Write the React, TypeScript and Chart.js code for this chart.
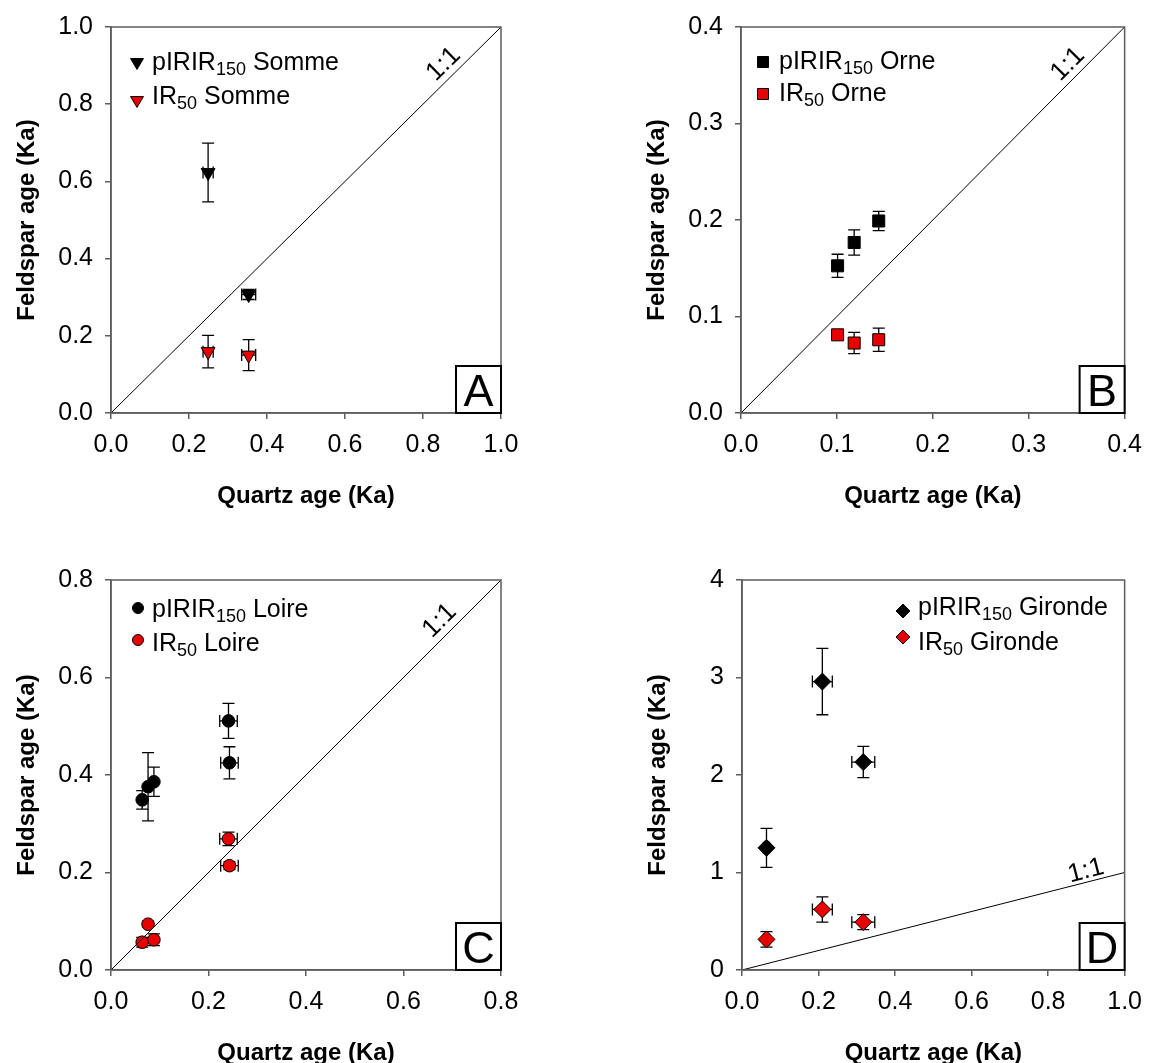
import React, { useEffect, useRef } from 'react';
import { Chart, registerables } from 'chart.js';

Chart.register(...registerables);

const FONT = "'Liberation Sans', Arial, Helvetica, sans-serif";
const AXIS = '#5c5c5c';
const RED = '#e80000';

// ---------- Panel A : Somme ----------
const sommeQuartz = [0.249, 0.353];
const sommeQuartzErr = [0.013, 0.018];
const sommePIRIR = [0.623, 0.307];
const sommePIRIRErr = [0.076, 0.013];
const sommeIR50 = [0.159, 0.15];
const sommeIR50Err = [0.042, 0.04];
const ticksA = [0, 0.2, 0.4, 0.6, 0.8, 1.0];

// ---------- Panel B : Orne ----------
const orneQuartz = [0.1007, 0.118, 0.1436];
const orneQuartzErr = [0.002, 0.004, 0.004];
const ornePIRIR = [0.1525, 0.1767, 0.199];
const ornePIRIRErr = [0.012, 0.013, 0.01];
const orneIR50 = [0.081, 0.0725, 0.0759];
const orneIR50Err = [0.003, 0.011, 0.012];
const ticksB = [0, 0.1, 0.2, 0.3, 0.4];

// ---------- Panel C : Loire ----------
const loireQuartz = [0.064, 0.076, 0.088, 0.241, 0.243];
const loireQuartzErr = [0.005, 0.005, 0.005, 0.018, 0.018];
const loirePIRIR = [0.349, 0.376, 0.386, 0.511, 0.425];
const loirePIRIRErr = [0.019, 0.07, 0.03, 0.036, 0.033];
const loireIR50 = [0.057, 0.094, 0.062, 0.269, 0.214];
const loireIR50Err = [0.01, 0.006, 0.012, 0.014, 0.008];
const ticksC = [0, 0.2, 0.4, 0.6, 0.8];

// ---------- Panel D : Gironde ----------
const girondeQuartz = [0.064, 0.21, 0.317];
const girondeQuartzErr = [0.008, 0.026, 0.03];
const girondePIRIR = [1.253, 2.958, 2.133];
const girondePIRIRErr = [0.2, 0.34, 0.16];
const girondeIR50 = [0.314, 0.621, 0.491];
const girondeIR50Err = [0.08, 0.13, 0.077];
const ticksDx = [0, 0.2, 0.4, 0.6, 0.8, 1.0];
const ticksDy = [0, 1, 2, 3, 4];

type Marker = 'triDown' | 'square' | 'circle' | 'diamond';

type LegendLine = { sub: string; site: string; color: string; baseDy: number; markDy: number };

type Spec = {
  left: number; top: number; w: number; h: number;
  pad: { left: number; top: number; right: number; bottom: number };
  xTicks: number[]; yTicks: number[]; xDec: number; yDec: number;
  lineMax: number;
  quartz: number[]; quartzErr: number[];
  black: number[]; blackErr: number[];
  red: number[]; redErr: number[];
  marker: Marker; pointStyle: string; pointRadius: number; rotation: number;
  legendMarkerSize: number;
  letter: string;
  lineT: number; lineOff: number;
  legend: { markDx: number; textDx: number; lines: LegendLine[] };
};

const specs: Spec[] = [
  {
    left: 0, top: 0, w: 576, h: 531,
    pad: { left: 0, top: 23, right: 75, bottom: 18 },
    xTicks: ticksA, yTicks: ticksA, xDec: 1, yDec: 1, lineMax: 1,
    quartz: sommeQuartz, quartzErr: sommeQuartzErr,
    black: sommePIRIR, blackErr: sommePIRIRErr, red: sommeIR50, redErr: sommeIR50Err,
    marker: 'triDown', pointStyle: 'triangle', pointRadius: 8, rotation: 180, legendMarkerSize: 6.8,
    letter: 'A', lineT: 0.878, lineOff: 14,
    legend: {
      markDx: 26, textDx: 41,
      lines: [
        { sub: '150', site: 'pIRIR', color: '#000', baseDy: 43, markDy: 37 },
        { sub: '50', site: 'IR', color: RED, baseDy: 77, markDy: 75 },
      ],
    },
  },
  {
    left: 576, top: 0, w: 577, h: 531,
    pad: { left: 54, top: 23, right: 22, bottom: 18 },
    xTicks: ticksB, yTicks: ticksB, xDec: 1, yDec: 1, lineMax: 0.4,
    quartz: orneQuartz, quartzErr: orneQuartzErr,
    black: ornePIRIR, blackErr: ornePIRIRErr, red: orneIR50, redErr: orneIR50Err,
    marker: 'square', pointStyle: 'rect', pointRadius: 8.5, rotation: 0, legendMarkerSize: 5.5,
    letter: 'B', lineT: 0.878, lineOff: 14,
    legend: {
      markDx: 22, textDx: 38,
      lines: [
        { sub: '150', site: 'pIRIR', color: '#000', baseDy: 42, markDy: 35 },
        { sub: '50', site: 'IR', color: RED, baseDy: 74, markDy: 67 },
      ],
    },
  },
  {
    left: 0, top: 531, w: 576, h: 560,
    pad: { left: 0, top: 49, right: 75, bottom: 21 },
    xTicks: ticksC, yTicks: ticksC, xDec: 1, yDec: 1, lineMax: 0.8,
    quartz: loireQuartz, quartzErr: loireQuartzErr,
    black: loirePIRIR, blackErr: loirePIRIRErr, red: loireIR50, redErr: loireIR50Err,
    marker: 'circle', pointStyle: 'circle', pointRadius: 6.3, rotation: 0, legendMarkerSize: 5.5,
    letter: 'C', lineT: 0.869, lineOff: 14.5,
    legend: {
      markDx: 27, textDx: 41,
      lines: [
        { sub: '150', site: 'pIRIR', color: '#000', baseDy: 37, markDy: 28 },
        { sub: '50', site: 'IR', color: RED, baseDy: 71, markDy: 60 },
      ],
    },
  },
  {
    left: 576, top: 531, w: 577, h: 560,
    pad: { left: 55, top: 49, right: 22, bottom: 21 },
    xTicks: ticksDx, yTicks: ticksDy, xDec: 1, yDec: 0, lineMax: 1,
    quartz: girondeQuartz, quartzErr: girondeQuartzErr,
    black: girondePIRIR, blackErr: girondePIRIRErr, red: girondeIR50, redErr: girondeIR50Err,
    marker: 'diamond', pointStyle: 'rectRot', pointRadius: 8.5, rotation: 0, legendMarkerSize: 7,
    letter: 'D', lineT: 0.906, lineOff: 11,
    legend: {
      markDx: 161, textDx: 176,
      lines: [
        { sub: '150', site: 'pIRIR', color: '#000', baseDy: 35, markDy: 31 },
        { sub: '50', site: 'IR', color: RED, baseDy: 70, markDy: 57 },
      ],
    },
  },
];

const siteNames = ['Somme', 'Orne', 'Loire', 'Gironde'];

function drawMarker(ctx: CanvasRenderingContext2D, m: Marker, x: number, y: number, r: number, fill: string) {
  ctx.save();
  ctx.beginPath();
  if (m === 'triDown') {
    const hw = r * 0.95;
    const hh = r * 0.8;
    ctx.moveTo(x - hw, y - hh);
    ctx.lineTo(x + hw, y - hh);
    ctx.lineTo(x, y + hh);
    ctx.closePath();
  } else if (m === 'square') {
    ctx.rect(x - r, y - r, 2 * r, 2 * r);
  } else if (m === 'circle') {
    ctx.arc(x, y, r, 0, Math.PI * 2);
  } else {
    ctx.moveTo(x, y - r);
    ctx.lineTo(x + r, y);
    ctx.lineTo(x, y + r);
    ctx.lineTo(x - r, y);
    ctx.closePath();
  }
  ctx.fillStyle = fill;
  ctx.fill();
  ctx.lineWidth = 1;
  ctx.strokeStyle = '#000';
  ctx.stroke();
  ctx.restore();
}

const errorBarPlugin = {
  id: 'errorBars',
  beforeDatasetsDraw(chart: any) {
    const ctx: CanvasRenderingContext2D = chart.ctx;
    const xs = chart.scales.x;
    const ys = chart.scales.y;
    const cap = 6;
    ctx.save();
    ctx.strokeStyle = '#000';
    ctx.lineWidth = 1.3;
    chart.data.datasets.forEach((ds: any) => {
      if (!ds.xErr) return;
      ds.data.forEach((pt: any, i: number) => {
        const px = xs.getPixelForValue(pt.x);
        const py = ys.getPixelForValue(pt.y);
        const yTop = ys.getPixelForValue(pt.y + ds.yErr[i]);
        const yBot = ys.getPixelForValue(pt.y - ds.yErr[i]);
        const xL = xs.getPixelForValue(pt.x - ds.xErr[i]);
        const xR = xs.getPixelForValue(pt.x + ds.xErr[i]);
        ctx.beginPath();
        ctx.moveTo(px, yTop); ctx.lineTo(px, yBot);
        ctx.moveTo(px - cap, yTop); ctx.lineTo(px + cap, yTop);
        ctx.moveTo(px - cap, yBot); ctx.lineTo(px + cap, yBot);
        ctx.moveTo(xL, py); ctx.lineTo(xR, py);
        ctx.moveTo(xL, py - cap); ctx.lineTo(xL, py + cap);
        ctx.moveTo(xR, py - cap); ctx.lineTo(xR, py + cap);
        ctx.stroke();
      });
    });
    ctx.restore();
  },
};

function makeDecorPlugin(spec: Spec, site: string) {
  return {
    id: 'decor',
    afterDraw(chart: any) {
      const ctx: CanvasRenderingContext2D = chart.ctx;
      const a = chart.chartArea;
      const xs = chart.scales.x;
      const ys = chart.scales.y;
      ctx.save();
      // frame
      ctx.strokeStyle = AXIS;
      ctx.lineWidth = 1.5;
      ctx.strokeRect(a.left, a.top, a.right - a.left, a.bottom - a.top);

      // letter box
      const bw = 45, bh = 47;
      ctx.fillStyle = '#fff';
      ctx.fillRect(a.right - bw, a.bottom - bh, bw, bh);
      ctx.strokeStyle = '#000';
      ctx.lineWidth = 2;
      ctx.strokeRect(a.right - bw, a.bottom - bh, bw, bh);
      ctx.fillStyle = '#000';
      ctx.font = `45px ${FONT}`;
      ctx.textAlign = 'center';
      ctx.textBaseline = 'alphabetic';
      ctx.fillText(spec.letter, a.right - bw / 2, a.bottom - 7);

      // 1:1 label
      const x0 = xs.getPixelForValue(0), y0 = ys.getPixelForValue(0);
      const x1 = xs.getPixelForValue(spec.lineMax), y1 = ys.getPixelForValue(spec.lineMax);
      const ang = Math.atan2(y1 - y0, x1 - x0);
      const v = spec.lineT * spec.lineMax;
      const lx = xs.getPixelForValue(v) + Math.sin(ang) * spec.lineOff;
      const ly = ys.getPixelForValue(v) - Math.cos(ang) * spec.lineOff;
      ctx.save();
      ctx.translate(lx, ly);
      ctx.rotate(ang);
      ctx.font = `26px ${FONT}`;
      ctx.textAlign = 'center';
      ctx.textBaseline = 'middle';
      ctx.fillText('1:1', 0, 0);
      ctx.restore();

      // legend
      ctx.textAlign = 'left';
      ctx.textBaseline = 'alphabetic';
      spec.legend.lines.forEach((ln) => {
        drawMarker(ctx, spec.marker, a.left + spec.legend.markDx, a.top + ln.markDy, spec.legendMarkerSize, ln.color);
        let tx = a.left + spec.legend.textDx;
        const by = a.top + ln.baseDy;
        ctx.fillStyle = '#000';
        ctx.font = `25px ${FONT}`;
        ctx.fillText(ln.site, tx, by);
        tx += ctx.measureText(ln.site).width;
        ctx.font = `18px ${FONT}`;
        ctx.fillText(ln.sub, tx, by + 5);
        tx += ctx.measureText(ln.sub).width;
        ctx.font = `25px ${FONT}`;
        ctx.fillText(' ' + site, tx, by);
      });
      ctx.restore();
    },
  };
}

function makeConfig(spec: Spec, site: string): any {
  const pts = (ys: number[]) => spec.quartz.map((x, i) => ({ x, y: ys[i] }));
  const axisCommon = (ticks: number[], dec: number, isX: boolean, title: string) => ({
    type: 'linear',
    min: ticks[0],
    max: ticks[ticks.length - 1],
    afterBuildTicks: (s: any) => { s.ticks = ticks.map((value) => ({ value })); },
    afterFit: (s: any) => { if (isX) s.height = 100; else s.width = 111; },
    grid: { display: true, drawOnChartArea: false, drawTicks: true, tickLength: 6, color: AXIS, lineWidth: 1.5 },
    border: { display: true, color: AXIS, width: 1.5 },
    ticks: {
      padding: isX ? 11 : 12,
      color: '#000',
      font: { family: FONT, size: 25 },
      maxRotation: 0,
      autoSkip: false,
      callback: (v: any) => Number(v).toFixed(dec),
    },
    title: {
      display: true,
      text: title,
      color: '#000',
      font: { family: FONT, size: 24, weight: 'bold' },
      padding: isX ? { top: 0, bottom: 2 } : { top: 12.6, bottom: 0 },
    },
  });
  return {
    type: 'scatter',
    data: {
      datasets: [
        {
          label: '1:1',
          data: [{ x: 0, y: 0 }, { x: spec.lineMax, y: spec.lineMax }],
          showLine: true,
          borderColor: '#000',
          borderWidth: 1,
          pointRadius: 0,
        },
        {
          label: `pIRIR150 ${site}`,
          data: pts(spec.black),
          xErr: spec.quartzErr,
          yErr: spec.blackErr,
          pointStyle: spec.pointStyle,
          pointRadius: spec.pointRadius,
          rotation: spec.rotation,
          backgroundColor: '#000',
          borderColor: '#000',
          borderWidth: 1,
        },
        {
          label: `IR50 ${site}`,
          data: pts(spec.red),
          xErr: spec.quartzErr,
          yErr: spec.redErr,
          pointStyle: spec.pointStyle,
          pointRadius: spec.pointRadius,
          rotation: spec.rotation,
          backgroundColor: RED,
          borderColor: '#000',
          borderWidth: 1,
        },
      ],
    },
    options: {
      responsive: false,
      animation: false,
      devicePixelRatio: 1,
      layout: { padding: spec.pad },
      plugins: { legend: { display: false }, tooltip: { enabled: false } },
      scales: {
        x: axisCommon(spec.xTicks, spec.xDec, true, 'Quartz age (Ka)'),
        y: axisCommon(spec.yTicks, spec.yDec, false, 'Feldspar age (Ka)'),
      },
    },
    plugins: [errorBarPlugin, makeDecorPlugin(spec, site)],
  };
}

function Panel({ spec, site }: { spec: Spec; site: string }) {
  const ref = useRef<HTMLCanvasElement>(null);
  useEffect(() => {
    const chart = new Chart(ref.current as HTMLCanvasElement, makeConfig(spec, site));
    return () => chart.destroy();
  }, [spec, site]);
  return (
    <canvas
      ref={ref}
      width={spec.w}
      height={spec.h}
      style={{ position: 'absolute', left: spec.left, top: spec.top, width: spec.w, height: spec.h }}
    />
  );
}

export default function App() {
  return (
    <div
      style={{
        position: 'absolute',
        left: 0,
        top: 0,
        width: 1153,
        height: 1063,
        overflow: 'hidden',
        background: '#fff',
      }}
    >
      {specs.map((s, i) => (
        <Panel key={i} spec={s} site={siteNames[i]} />
      ))}
    </div>
  );
}
